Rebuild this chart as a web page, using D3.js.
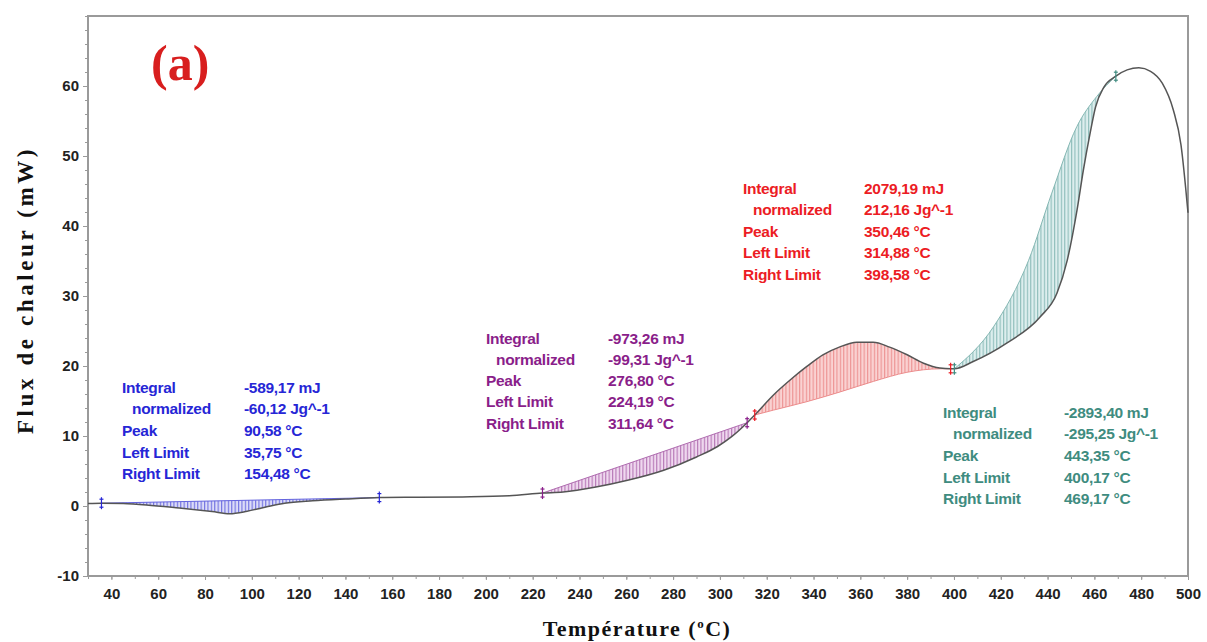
<!DOCTYPE html>
<html>
<head>
<meta charset="utf-8">
<script src="https://cdn.jsdelivr.net/npm/d3@7"></script>
<style>
  html, body { margin: 0; padding: 0; background: #fff; }
  svg { display: block; }
</style>
</head>
<body>
<svg id="chart" width="1207" height="642"></svg>
<script>
// DSC heat-flow curve (temperature in °C, heat flow in mW)
const temps = [30, 35.75, 45, 55, 69, 83, 90.58, 98, 106, 114, 126, 140, 154.48, 170, 190, 210, 224.19,
  233, 247, 261, 276, 290, 299, 305, 311.64, 314.88, 323, 330, 337, 344, 351, 358.5, 365.5, 372.5,
  380, 387, 394, 398.58, 400.17, 408, 422.7, 436.8, 444, 448.4, 452.6, 455.3, 458.2, 460.5, 464,
  469.17, 474, 479, 484, 489, 493.7, 497, 500];
const heatFlow = [0.35, 0.4, 0.35, 0.15, -0.3, -0.8, -1.1, -0.75, -0.15, 0.4, 0.75, 1.0, 1.2, 1.25, 1.3, 1.45, 1.85,
  2.0, 2.7, 3.7, 5.1, 7.0, 8.5, 9.9, 11.9, 13.0, 15.9, 18.0, 19.9, 21.6, 22.7, 23.4, 23.4, 22.7,
  21.6, 20.4, 19.7, 19.6, 19.6, 20.6, 23.3, 27.0, 30.4, 35.1, 42.3, 48.0, 53.3, 57.0, 59.8,
  61.4, 62.3, 62.6, 62.1, 60.4, 56.6, 51.6, 41.9];

// Integration baselines for each peak (temperature, heat flow)
const baseTempsA = [35.75, 154.48];
const baseFlowA = [0.4, 1.2];
const baseTempsB = [224.19, 311.64];
const baseFlowB = [1.85, 11.9];
const baseTempsC = [314.88, 322.9, 337.1, 351.4, 365.6, 379.9, 394.1, 398.58];
const baseFlowC = [13.0, 13.7, 14.9, 16.3, 17.8, 19.1, 19.6, 19.6];
const baseTempsD = [400.17, 416.9, 431.9, 441.8, 452.5, 461.0, 469.17];
const baseFlowD = [19.6, 25.6, 35.1, 44.7, 54.2, 58.5, 61.4];

// Integration results
const resultLabels = ["Integral", "normalized", "Peak", "Left Limit", "Right Limit"];
const resultsA = ["-589,17 mJ", "-60,12 Jg^-1", "90,58 °C", "35,75 °C", "154,48 °C"];
const resultsB = ["-973,26 mJ", "-99,31 Jg^-1", "276,80 °C", "224,19 °C", "311,64 °C"];
const resultsC = ["2079,19 mJ", "212,16 Jg^-1", "350,46 °C", "314,88 °C", "398,58 °C"];
const resultsD = ["-2893,40 mJ", "-295,25 Jg^-1", "443,35 °C", "400,17 °C", "469,17 °C"];
const leftLimits = [35.75, 224.19, 314.88, 400.17];
const rightLimits = [154.48, 311.64, 398.58, 469.17];

// Axis ticks
const xTickValues = d3.range(40, 501, 20);
const yTickValues = [-10, 0, 10, 20, 30, 40, 50, 60];

const svg = d3.select("#chart");
const W = 1207, H = 642;
const plot = { left: 88, right: 1188, top: 16, bottom: 576 };

svg.append("rect").attr("width", W).attr("height", H).attr("fill", "#fff");

const x = d3.scaleLinear().domain([30, 500]).range([plot.left, plot.right]);
const y = d3.scaleLinear().domain([-10, 70]).range([plot.bottom, plot.top]);

const styles = [
  { text: "#2626d6", fill: "#dcdcf8", hatch: "#6464de", id: "hA" },
  { text: "#8a1e8a", fill: "#efd8ef", hatch: "#b06cb0", id: "hB" },
  { text: "#ec1c24", fill: "#fad2d2", hatch: "#ec8c8c", id: "hC" },
  { text: "#3f8c80", fill: "#ddeeee", hatch: "#86b8b4", id: "hD" }
];

// hatch patterns: light fill with vertical lines
const defs = svg.append("defs");
styles.forEach(s => {
  const p = defs.append("pattern").attr("id", s.id)
    .attr("patternUnits", "userSpaceOnUse").attr("width", 3.4).attr("height", 10);
  p.append("rect").attr("width", 3.4).attr("height", 10).attr("fill", s.fill);
  p.append("line").attr("x1", 0.6).attr("x2", 0.6).attr("y1", 0).attr("y2", 10)
    .attr("stroke", s.hatch).attr("stroke-width", 1);
});

const curvePts = temps.map((t, i) => [t, heatFlow[i]]);
const lineGen = d3.line().x(d => x(d[0])).y(d => y(d[1])).curve(d3.curveMonotoneX);
const linearGen = d3.line().x(d => x(d[0])).y(d => y(d[1]));

const baselines = [
  baseTempsA.map((t, i) => [t, baseFlowA[i]]),
  baseTempsB.map((t, i) => [t, baseFlowB[i]]),
  baseTempsC.map((t, i) => [t, baseFlowC[i]]),
  baseTempsD.map((t, i) => [t, baseFlowD[i]])
];

// shaded integration areas between curve and baseline
const areaG = svg.append("g");
baselines.forEach((bl, k) => {
  const lo = leftLimits[k], hi = rightLimits[k];
  const sub = curvePts.filter(d => d[0] >= lo - 1e-6 && d[0] <= hi + 1e-6);
  const top = lineGen(sub);
  const rev = bl.slice().reverse();
  const back = (bl.length > 2 ? lineGen(rev) : linearGen(rev)).replace(/^M/, "L");
  areaG.append("path").attr("d", top + back + "Z")
    .attr("fill", `url(#${styles[k].id})`).attr("stroke", "none");
  areaG.append("path").attr("d", bl.length > 2 ? lineGen(bl) : linearGen(bl))
    .attr("fill", "none").attr("stroke", styles[k].hatch).attr("stroke-width", 1);
});

// frame and axes
const axisColor = "#9a9a9a";
svg.append("rect")
  .attr("x", plot.left).attr("y", plot.top)
  .attr("width", plot.right - plot.left).attr("height", plot.bottom - plot.top)
  .attr("fill", "none").attr("stroke", axisColor).attr("stroke-width", 2);

const plainNum = d => String(d);
const yAxis = d3.axisLeft(y).tickValues(yTickValues).tickSize(5).tickPadding(4).tickFormat(plainNum);
const yMinor = d3.axisLeft(y).tickValues(d3.range(-10, 71, 2)).tickSize(3).tickFormat("");
const xAxis = d3.axisBottom(x).tickValues(xTickValues).tickSize(4).tickPadding(8).tickFormat(plainNum);
const xMinor = d3.axisBottom(x).tickValues(d3.range(30, 501, 10)).tickSize(3).tickFormat("");

function styleAxis(g) {
  g.select(".domain").remove();
  g.selectAll(".tick line").attr("stroke", axisColor);
  g.selectAll(".tick text")
    .attr("font-family", "'Liberation Sans', Arial, sans-serif")
    .attr("font-weight", "bold").attr("font-size", 15).attr("fill", "#222");
}
svg.append("g").attr("transform", `translate(${plot.left},0)`).call(yMinor).call(styleAxis);
svg.append("g").attr("transform", `translate(${plot.left},0)`).call(yAxis).call(styleAxis);
svg.append("g").attr("transform", `translate(0,${plot.bottom})`).call(xMinor).call(styleAxis);
svg.append("g").attr("transform", `translate(0,${plot.bottom})`).call(xAxis).call(styleAxis);

// heat-flow curve
svg.append("path").datum(curvePts).attr("d", lineGen)
  .attr("fill", "none").attr("stroke", "#555").attr("stroke-width", 1.5);

// limit markers
function limitMarker(t, color) {
  const v = curvePts.find(d => Math.abs(d[0] - t) < 1e-6)[1];
  const cx = x(t), cy = y(v);
  const g = svg.append("g").attr("stroke", color).attr("stroke-width", 1.2);
  g.append("line").attr("x1", cx).attr("x2", cx).attr("y1", cy - 6).attr("y2", cy + 6);
  g.append("line").attr("x1", cx - 2).attr("x2", cx + 2).attr("y1", cy - 4).attr("y2", cy - 4);
  g.append("line").attr("x1", cx - 2).attr("x2", cx + 2).attr("y1", cy + 4).attr("y2", cy + 4);
}
leftLimits.forEach((t, k) => limitMarker(t, styles[k].text));
rightLimits.forEach((t, k) => limitMarker(t, styles[k].text));

// result tables
const tables = [
  { vals: resultsA, lx: 122, vx: 244, y0: 387, dy: 21.7 },
  { vals: resultsB, lx: 486, vx: 608, y0: 338, dy: 21.3 },
  { vals: resultsC, lx: 743, vx: 864, y0: 188, dy: 21.5 },
  { vals: resultsD, lx: 943, vx: 1064, y0: 412, dy: 21.7 }
];
tables.forEach((tb, k) => {
  const g = svg.append("g")
    .attr("font-family", "'Liberation Sans', Arial, sans-serif")
    .attr("font-weight", "bold").attr("font-size", 15.5)
    .attr("fill", styles[k].text);
  resultLabels.forEach((lab, i) => {
    g.append("text").attr("x", tb.lx + (i === 1 ? 10 : 0)).attr("y", tb.y0 + i * tb.dy)
      .attr("dy", "0.36em").attr("letter-spacing", -0.3).text(lab);
    g.append("text").attr("x", tb.vx).attr("y", tb.y0 + i * tb.dy)
      .attr("dy", "0.36em").attr("letter-spacing", -0.3).text(tb.vals[i]);
  });
});

// panel label
svg.append("text").attr("x", 151).attr("y", 80)
  .attr("font-family", "'Liberation Serif', 'Times New Roman', serif")
  .attr("font-weight", "bold").attr("font-size", 50).attr("fill", "#d81e1e")
  .text("(a)");

// axis titles
svg.append("text")
  .attr("transform", "translate(33,290) rotate(-90)")
  .attr("text-anchor", "middle")
  .attr("font-family", "'Liberation Serif', 'Times New Roman', serif")
  .attr("font-weight", "bold").attr("font-size", 23).attr("letter-spacing", 3.6)
  .attr("fill", "#111")
  .text("Flux de chaleur (mW)");

const xt = svg.append("text")
  .attr("x", 637).attr("y", 636)
  .attr("text-anchor", "middle")
  .attr("font-family", "'Liberation Serif', 'Times New Roman', serif")
  .attr("font-weight", "bold").attr("font-size", 22).attr("letter-spacing", 1.5)
  .attr("fill", "#111");
xt.append("tspan").text("Température (");
xt.append("tspan").attr("font-size", 13).attr("dy", -8).text("o");
xt.append("tspan").attr("dy", 8).text("C)");
</script>
</body>
</html>
